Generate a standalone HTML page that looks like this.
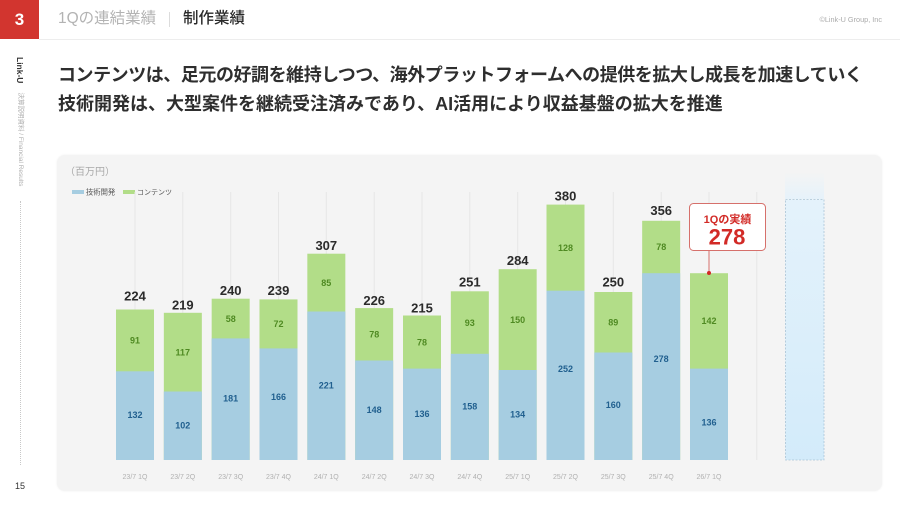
<!DOCTYPE html>
<html>
<head>
<meta charset="utf-8">
<style>
  html,body{margin:0;padding:0;}
  body{width:900px;height:506px;position:relative;overflow:hidden;background:#fff;
    font-family:"Liberation Sans","Noto Sans CJK JP",sans-serif;}
  .abs{position:absolute;}
  .redbox{left:0;top:0;width:39px;height:39px;background:#d2352f;color:#fff;font-weight:bold;
    font-size:17px;line-height:39px;text-align:center;}
  .hline{left:39px;top:39px;width:861px;height:1px;background:#ededed;}
  .h1{left:58px;top:8px;font-size:15.5px;line-height:22px;color:#b3b3b3;white-space:nowrap;}
  .sep{left:169px;top:12px;width:1px;height:15px;background:#dcdcdc;}
  .h2{left:183px;top:8px;font-size:15.5px;line-height:22px;color:#2a2a2a;font-weight:500;white-space:nowrap;}
  .copy{right:18px;top:15px;font-size:7.3px;line-height:10px;color:#aaa;white-space:nowrap;}
  .title{left:58px;top:60.5px;font-size:18px;line-height:29px;font-weight:bold;color:#2e2e2e;white-space:nowrap;}
  .side{left:25px;top:57px;transform-origin:0 0;transform:rotate(90deg);white-space:nowrap;
    display:flex;align-items:center;height:10px;}
  .side .a{font-size:8.5px;font-weight:bold;color:#333;line-height:10px;}
  .side .b{font-size:6.5px;color:#b0b0b0;margin-left:9px;line-height:10px;}
  .dots{left:20px;top:201px;height:264px;border-left:1px dotted #c8c8c8;}
  .pg{left:10px;top:480px;width:20px;text-align:center;font-size:9px;color:#333;line-height:12px;}
  .card{left:57px;top:155px;width:825px;height:336px;background:#f4f4f4;border-radius:8px;
    box-shadow:0 0 2px rgba(0,0,0,0.07);}
</style>
</head>
<body>
<div class="abs redbox">3</div>
<div class="abs hline"></div>
<div class="abs h1">1Qの連結業績</div>
<div class="abs sep"></div>
<div class="abs h2">制作業績</div>
<div class="abs copy">©Link-U Group, Inc</div>

<div class="abs title"><span style="letter-spacing:-0.45px">コンテンツは、足元の好調を維持しつつ、海外プラットフォームへの提供を拡大し成長を加速していく</span><br>技術開発は、大型案件を継続受注済みであり、AI活用により収益基盤の拡大を推進</div>

<div class="abs side"><span class="a">Link-U</span><span class="b">決算説明資料 / Financial Results</span></div>
<div class="abs dots"></div>
<div class="abs pg">15</div>

<div class="abs card"></div>

<svg class="abs" style="left:0;top:0" width="900" height="506" viewBox="0 0 900 506" xmlns="http://www.w3.org/2000/svg">
  <defs>
    <linearGradient id="fade" x1="0" y1="0" x2="0" y2="1">
      <stop offset="0" stop-color="#f4f4f4"/>
      <stop offset="1" stop-color="#e6f2fa"/>
    </linearGradient>
    <linearGradient id="dfill" x1="0" y1="0" x2="0" y2="1">
      <stop offset="0" stop-color="#e4f2fb"/>
      <stop offset="1" stop-color="#d3ebfa"/>
    </linearGradient>
  </defs>
  <g font-family="Liberation Sans, Noto Sans CJK JP, sans-serif">
  <text x="65" y="175" font-size="10" fill="#a8a8a8">（百万円）</text>
  <rect x="72" y="190" width="12" height="4" fill="#a6cde1"/>
  <text x="86" y="194.5" font-size="7.3" fill="#555">技術開発</text>
  <rect x="123" y="190" width="12" height="4" fill="#b2dd88"/>
  <text x="137" y="194.5" font-size="7" fill="#555">コンテンツ</text>

  <!-- gridlines -->
  <g stroke="#e6e6e6" stroke-width="1">
    <line x1="135" y1="192" x2="135" y2="460"/>
    <line x1="182.8" y1="192" x2="182.8" y2="460"/>
    <line x1="230.7" y1="192" x2="230.7" y2="460"/>
    <line x1="278.5" y1="192" x2="278.5" y2="460"/>
    <line x1="326.3" y1="192" x2="326.3" y2="460"/>
    <line x1="374.2" y1="192" x2="374.2" y2="460"/>
    <line x1="422" y1="192" x2="422" y2="460"/>
    <line x1="469.8" y1="192" x2="469.8" y2="460"/>
    <line x1="517.7" y1="192" x2="517.7" y2="460"/>
    <line x1="565.5" y1="192" x2="565.5" y2="460"/>
    <line x1="613.3" y1="192" x2="613.3" y2="460"/>
    <line x1="661.2" y1="192" x2="661.2" y2="460"/>
    <line x1="709" y1="192" x2="709" y2="460"/>
    <line x1="756.8" y1="192" x2="756.8" y2="460"/>
  </g>

  <!-- dashed forecast bar -->
  <rect x="785" y="172" width="39" height="27" fill="url(#fade)"/>
  <rect x="785.5" y="199.5" width="38.5" height="260.5" fill="url(#dfill)" stroke="#a9c4d6" stroke-width="0.8" stroke-dasharray="2 1.5"/>

  <!-- bars -->
  <g fill="#b2dd88">
    <rect x="116" y="309.5" width="38" height="150.5"/>
    <rect x="163.83" y="312.8" width="38" height="147.2"/>
    <rect x="211.67" y="298.7" width="38" height="161.3"/>
    <rect x="259.5" y="299.4" width="38" height="160.6"/>
    <rect x="307.33" y="253.7" width="38" height="206.3"/>
    <rect x="355.17" y="308.1" width="38" height="151.9"/>
    <rect x="403" y="315.5" width="38" height="144.5"/>
    <rect x="450.83" y="291.3" width="38" height="168.7"/>
    <rect x="498.67" y="269.2" width="38" height="190.8"/>
    <rect x="546.5" y="204.6" width="38" height="255.4"/>
    <rect x="594.33" y="292" width="38" height="168"/>
    <rect x="642.17" y="220.8" width="38" height="239.2"/>
    <rect x="690" y="273.2" width="38" height="186.8"/>
  </g>
  <g fill="#a6cde1">
    <rect x="116" y="371.3" width="38" height="88.7"/>
    <rect x="163.83" y="391.5" width="38" height="68.5"/>
    <rect x="211.67" y="338.4" width="38" height="121.6"/>
    <rect x="259.5" y="348.4" width="38" height="111.6"/>
    <rect x="307.33" y="311.5" width="38" height="148.5"/>
    <rect x="355.17" y="360.5" width="38" height="99.5"/>
    <rect x="403" y="368.6" width="38" height="91.4"/>
    <rect x="450.83" y="353.8" width="38" height="106.2"/>
    <rect x="498.67" y="370" width="38" height="90"/>
    <rect x="546.5" y="290.7" width="38" height="169.3"/>
    <rect x="594.33" y="352.5" width="38" height="107.5"/>
    <rect x="642.17" y="273.2" width="38" height="186.8"/>
    <rect x="690" y="368.6" width="38" height="91.4"/>
  </g>

  <!-- totals -->
  <g font-size="13" font-weight="bold" fill="#2b2b2b" text-anchor="middle">
    <text x="135" y="300.7">224</text>
    <text x="182.8" y="309.3">219</text>
    <text x="230.7" y="295">240</text>
    <text x="278.5" y="295">239</text>
    <text x="326.3" y="250">307</text>
    <text x="374.2" y="305">226</text>
    <text x="422" y="312.5">215</text>
    <text x="469.8" y="286.7">251</text>
    <text x="517.7" y="265">284</text>
    <text x="565.5" y="200.3">380</text>
    <text x="613.3" y="286.5">250</text>
    <text x="661.2" y="215">356</text>
  </g>

  <!-- green segment labels -->
  <g font-size="9" font-weight="bold" fill="#4f8a22" text-anchor="middle">
    <text x="135" y="343.6">91</text>
    <text x="182.8" y="355.4">117</text>
    <text x="230.7" y="321.8">58</text>
    <text x="278.5" y="327.1">72</text>
    <text x="326.3" y="285.8">85</text>
    <text x="374.2" y="337.5">78</text>
    <text x="422" y="345.3">78</text>
    <text x="469.8" y="325.8">93</text>
    <text x="517.7" y="322.8">150</text>
    <text x="565.5" y="250.9">128</text>
    <text x="613.3" y="325.5">89</text>
    <text x="661.2" y="250.2">78</text>
    <text x="709" y="324.1">142</text>
  </g>
  <!-- blue segment labels -->
  <g font-size="9" font-weight="bold" fill="#21608f" text-anchor="middle">
    <text x="135" y="418.2">132</text>
    <text x="182.8" y="428.3">102</text>
    <text x="230.7" y="401.7">181</text>
    <text x="278.5" y="400">166</text>
    <text x="326.3" y="388.3">221</text>
    <text x="374.2" y="412.8">148</text>
    <text x="422" y="416.8">136</text>
    <text x="469.8" y="409.4">158</text>
    <text x="517.7" y="417.5">134</text>
    <text x="565.5" y="371.9">252</text>
    <text x="613.3" y="407.8">160</text>
    <text x="661.2" y="362.1">278</text>
    <text x="709" y="425.5">136</text>
  </g>

  <!-- x labels -->
  <g font-size="7" fill="#b0b0b0" text-anchor="middle">
    <text x="135" y="479">23/7 1Q</text>
    <text x="182.8" y="479">23/7 2Q</text>
    <text x="230.7" y="479">23/7 3Q</text>
    <text x="278.5" y="479">23/7 4Q</text>
    <text x="326.3" y="479">24/7 1Q</text>
    <text x="374.2" y="479">24/7 2Q</text>
    <text x="422" y="479">24/7 3Q</text>
    <text x="469.8" y="479">24/7 4Q</text>
    <text x="517.7" y="479">25/7 1Q</text>
    <text x="565.5" y="479">25/7 2Q</text>
    <text x="613.3" y="479">25/7 3Q</text>
    <text x="661.2" y="479">25/7 4Q</text>
    <text x="709" y="479">26/7 1Q</text>
  </g>

  <!-- callout -->
  <line x1="709" y1="250.5" x2="709" y2="273" stroke="#d6706b" stroke-width="1"/>
  <circle cx="709" cy="273" r="2" fill="#d22a26"/>
  <rect x="689.5" y="203.5" width="76" height="47" rx="4" ry="4" fill="#fff" stroke="#d6706b" stroke-width="1"/>
  <text x="727.5" y="223" font-size="11" font-weight="bold" fill="#d22a26" text-anchor="middle">1Qの実績</text>
  <text x="727" y="244.5" font-size="22" font-weight="bold" fill="#d22a26" text-anchor="middle">278</text>
  </g>
</svg>
</body>
</html>
